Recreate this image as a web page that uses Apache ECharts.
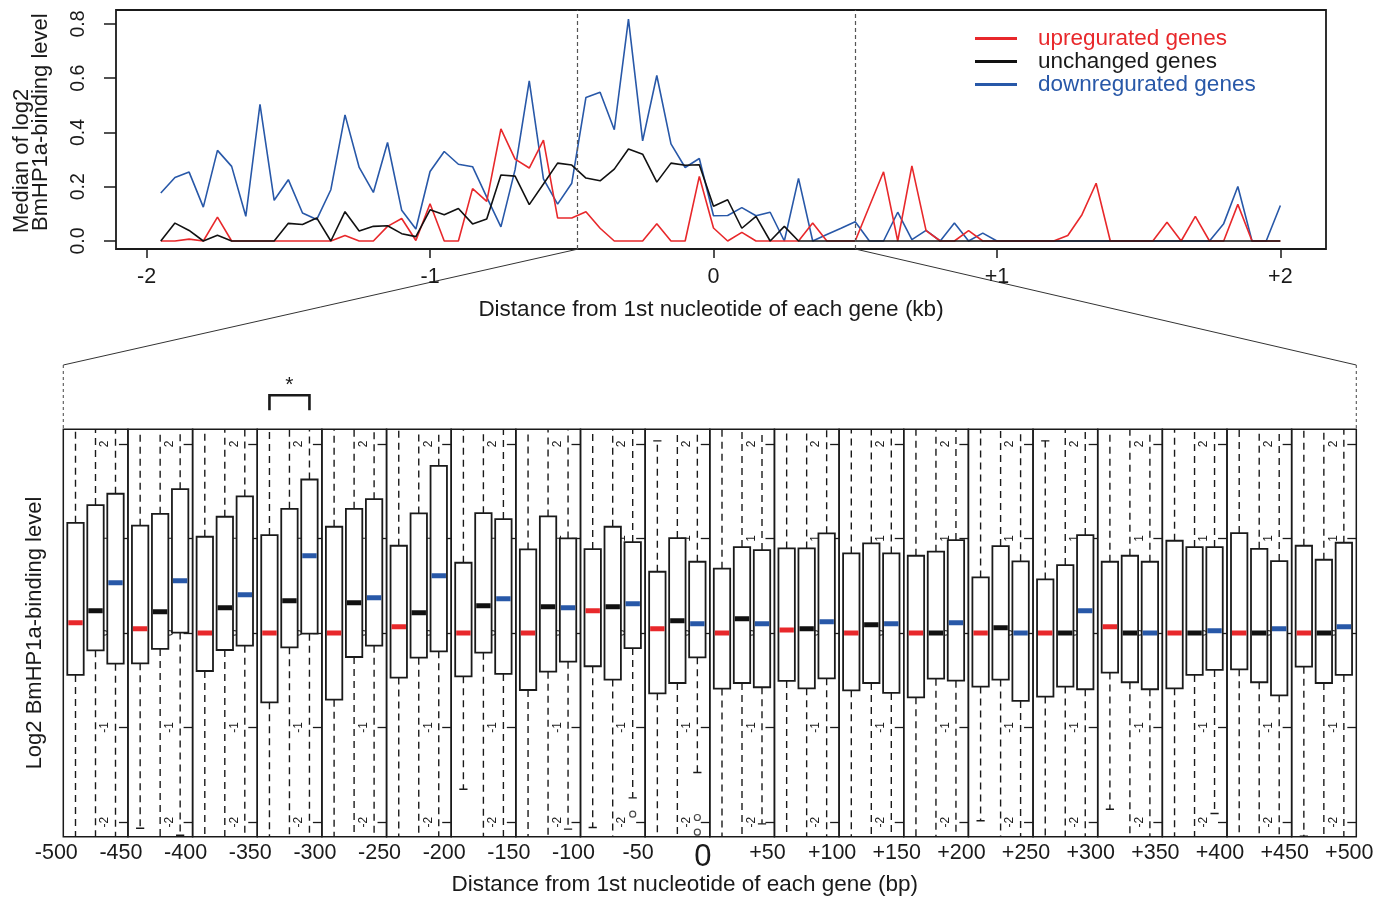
<!DOCTYPE html>
<html>
<head>
<meta charset="utf-8">
<script src="https://cdn.jsdelivr.net/npm/echarts@6/dist/echarts.min.js"></script>
<style>
html, body { margin: 0; padding: 0; background: #fff; }
#chart { width: 1390px; height: 898px; }
</style>
</head>
<body>
<div id="chart"></div>
<script>
// top panel: median of log2 BmHP1a-binding level in 50 bp bins (kb from 1st nucleotide)
var distKb = [
  -1.95, -1.9, -1.85, -1.8, -1.75, -1.7, -1.65, -1.6, -1.55, -1.5,
  -1.45, -1.4, -1.35, -1.3, -1.25, -1.2, -1.15, -1.1, -1.05, -1,
  -0.95, -0.9, -0.85, -0.8, -0.75, -0.7, -0.65, -0.6, -0.55, -0.5,
  -0.45, -0.4, -0.35, -0.3, -0.25, -0.2, -0.15, -0.1, -0.05, 0,
  0.05, 0.1, 0.15, 0.2, 0.25, 0.3, 0.35, 0.4, 0.45, 0.5,
  0.55, 0.6, 0.65, 0.7, 0.75, 0.8, 0.85, 0.9, 0.95, 1,
  1.05, 1.1, 1.15, 1.2, 1.25, 1.3, 1.35, 1.4, 1.45, 1.5,
  1.55, 1.6, 1.65, 1.7, 1.75, 1.8, 1.85, 1.9, 1.95, 2
];
var upMedian = [
  0, 0, 0.007, 0, 0.088, 0, 0, 0, 0, 0,
  0, 0, 0, 0.020, 0, 0, 0.054, 0.083, 0.002, 0.137,
  0, 0, 0.193, 0.146, 0.413, 0.302, 0.269, 0.372, 0.085, 0.085,
  0.108, 0.047, 0, 0, 0, 0.064, 0, 0, 0.238, 0.048,
  0, 0.032, 0, 0, 0, 0, 0.066, 0, 0, 0,
  0.128, 0.255, 0, 0.277, 0.038, 0, 0, 0.038, 0, 0,
  0, 0, 0, 0, 0.020, 0.097, 0.213, 0, 0, 0,
  0, 0.069, 0, 0.091, 0, 0, 0.135, 0, 0, 0
];
var unchangedMedian = [
  0, 0.066, 0.039, 0, 0.021, 0, 0, 0, 0, 0.065,
  0.061, 0.085, 0, 0.108, 0.037, 0.054, 0.056, 0.027, 0.016, 0.115,
  0.097, 0.120, 0.063, 0.081, 0.243, 0.239, 0.134, 0.210, 0.287, 0.280,
  0.232, 0.222, 0.265, 0.339, 0.320, 0.217, 0.287, 0.279, 0.281, 0.128,
  0.152, 0.047, 0.091, 0, 0.054, 0, 0, 0, 0, 0,
  0, 0, 0, 0, 0, 0, 0, 0, 0, 0,
  0, 0, 0, 0, 0, 0, 0, 0, 0, 0,
  0, 0, 0, 0, 0, 0, 0, 0, 0, 0
];
var downMedian = [
  0.177, 0.234, 0.254, 0.125, 0.334, 0.275, 0.091, 0.504, 0.150, 0.226,
  0.103, 0.079, 0.189, 0.465, 0.271, 0.179, 0.363, 0.113, 0.044, 0.256,
  0.330, 0.283, 0.274, 0.162, 0.052, 0.263, 0.590, 0.229, 0.136, 0.213,
  0.529, 0.548, 0.410, 0.818, 0.369, 0.610, 0.358, 0.271, 0.304, 0.093,
  0.094, 0.123, 0.093, 0.106, 0, 0.231, 0, 0.024, 0.047, 0.071,
  0, 0, 0.106, 0.005, 0.039, 0, 0.066, 0, 0.029, 0,
  0, 0, 0, 0, 0, 0, 0, 0, 0, 0,
  0, 0, 0, 0, 0, 0.064, 0.201, 0, 0, 0.131
];

// bottom panel: log2 binding level per 50 bp window, -500 .. +500 bp
// box = [lower whisker, Q1, median, Q3, upper whisker]; whiskers past +-2.15 run off the plot
var windowLabels = ['-500', '-450', '-400', '-350', '-300', '-250', '-200', '-150', '-100', '-50', '0',
  '+50', '+100', '+150', '+200', '+250', '+300', '+350', '+400', '+450', '+500'];
var upBox = [
  [-2.6, -0.444, 0.109, 1.166, 2.6],
  [-2.065, -0.321, 0.046, 1.135, 2.6],
  [-2.6, -0.402, 0, 1.018, 2.6],
  [-2.6, -0.733, 0, 1.036, 2.6],
  [-2.6, -0.705, 0, 1.124, 2.6],
  [-2.6, -0.472, 0.067, 0.923, 2.6],
  [-1.653, -0.458, 0, 0.743, 2.6],
  [-2.6, -0.603, 0, 0.884, 2.6],
  [-2.058, -0.352, 0.236, 0.888, 2.6],
  [-2.6, -0.638, 0.046, 0.648, 2.033],
  [-2.6, -0.588, 0, 0.680, 2.6],
  [-2.6, -0.507, 0.032, 0.895, 2.6],
  [-2.6, -0.606, 0, 0.842, 2.6],
  [-2.6, -0.680, 0, 0.817, 2.6],
  [-1.987, -0.567, 0, 0.588, 2.6],
  [-2.6, -0.673, 0, 0.567, 2.033],
  [-1.864, -0.419, 0.067, 0.754, 2.6],
  [-2.6, -0.585, 0, 0.976, 2.6],
  [-2.6, -0.384, 0, 1.057, 2.6],
  [-2.15, -0.356, 0, 0.923, 2.6]
];
var unchangedBox = [
  [-2.6, -0.183, 0.236, 1.353, 2.6],
  [-2.6, -0.169, 0.225, 1.261, 2.6],
  [-2.6, -0.180, 0.268, 1.230, 2.6],
  [-2.6, -0.152, 0.342, 1.314, 2.6],
  [-2.6, -0.254, 0.321, 1.314, 2.6],
  [-2.6, -0.261, 0.215, 1.265, 2.6],
  [-2.6, -0.208, 0.289, 1.268, 2.6],
  [-2.6, -0.409, 0.278, 1.233, 2.6],
  [-2.6, -0.493, 0.278, 1.124, 2.6],
  [-2.6, -0.529, 0.130, 1.004, 2.6],
  [-2.6, -0.529, 0.152, 0.909, 2.6],
  [-2.6, -0.585, 0.046, 0.895, 2.6],
  [-2.6, -0.529, 0.088, 0.948, 2.6],
  [-2.6, -0.483, 0, 0.860, 2.6],
  [-2.6, -0.493, 0.056, 0.920, 2.6],
  [-2.6, -0.567, 0, 0.719, 2.6],
  [-2.6, -0.521, 0, 0.817, 2.6],
  [-2.6, -0.444, 0, 0.909, 2.6],
  [-2.6, -0.521, 0, 0.891, 2.6],
  [-2.6, -0.529, 0, 0.775, 2.6]
];
var downBox = [
  [-2.6, -0.324, 0.532, 1.473, 2.6],
  [-2.14, 0.004, 0.553, 1.522, 2.6],
  [-2.6, -0.134, 0.405, 1.445, 2.6],
  [-2.6, -0.007, 0.817, 1.624, 2.6],
  [-2.6, -0.134, 0.373, 1.416, 2.6],
  [-2.6, -0.194, 0.606, 1.769, 2.6],
  [-2.6, -0.433, 0.363, 1.205, 2.6],
  [-2.075, -0.303, 0.268, 1.001, 2.6],
  [-1.744, -0.159, 0.310, 0.962, 2.6],
  [-1.476, -0.257, 0.099, 0.754, 2.6],
  [-2.019, -0.574, 0.099, 0.877, 2.6],
  [-2.6, -0.479, 0.120, 1.054, 2.6],
  [-2.6, -0.634, 0.099, 0.842, 2.6],
  [-2.6, -0.504, 0.109, 0.983, 2.6],
  [-2.6, -0.719, 0, 0.758, 2.6],
  [-2.6, -0.595, 0.236, 1.036, 2.6],
  [-2.6, -0.595, 0, 0.754, 2.6],
  [-1.910, -0.391, 0.025, 0.909, 2.6],
  [-2.6, -0.659, 0.046, 0.761, 2.6],
  [-2.6, -0.444, 0.067, 0.955, 2.6]
];
// [window index, value]
var downOutliers = [[8, -1.917], [9, -1.952], [9, -2.107]];

var RED = '#e8282b', BLACK = '#111111', BLUE = '#2858a8';
var groupColors = [RED, BLACK, BLUE];
var FONT = '"Liberation Sans", Arial, Helvetica, sans-serif';
var INK = '#1a1a1a';

var chart = echarts.init(document.getElementById('chart'));

var PANEL_LEFT = 63.3, PANEL_W = 64.65, PANEL_TOP = 429.3, PANEL_H = 407.4;
var SLOT_MIN = -0.61, SLOT_MAX = 2.6225, BOX_Y = 2.155;

function renderBox(params, api) {
  var slot = api.value(0);
  var x = api.coord([slot, 0])[0];
  var lo = api.coord([slot, api.value(1)])[1];
  var q1 = api.coord([slot, api.value(2)])[1];
  var md = api.coord([slot, api.value(3)])[1];
  var q3 = api.coord([slot, api.value(4)])[1];
  var hi = api.coord([slot, api.value(5)])[1];
  var hw = api.size([0.82, 0])[0] / 2;
  var dash = { stroke: INK, lineWidth: 1.4, lineDash: [7, 5] };
  var solid = { stroke: INK, lineWidth: 1.4 };
  return {
    type: 'group',
    children: [
      { type: 'line', shape: { x1: x, y1: q3, x2: x, y2: hi }, style: dash },
      { type: 'line', shape: { x1: x, y1: q1, x2: x, y2: lo }, style: dash },
      { type: 'line', shape: { x1: x - hw / 2, y1: hi, x2: x + hw / 2, y2: hi }, style: solid },
      { type: 'line', shape: { x1: x - hw / 2, y1: lo, x2: x + hw / 2, y2: lo }, style: solid },
      { type: 'rect', shape: { x: x - hw, y: q3, width: 2 * hw, height: q1 - q3 },
        style: { fill: '#fff', stroke: INK, lineWidth: 1.8 } },
      { type: 'rect', shape: { x: x - hw + 1, y: md - 2.5, width: 2 * hw - 2, height: 5 },
        style: { fill: groupColors[slot] } }
    ]
  };
}

var grids = [], xAxes = [], yAxes = [], series = [];

// top chart
grids.push({ left: 116, top: 10, width: 1210, height: 239, show: true, borderColor: INK, borderWidth: 1.8,
  backgroundColor: 'transparent', outerBoundsMode: 'none' });
xAxes.push({
  gridIndex: 0, type: 'value', min: -2.108, max: 2.161,
  axisLine: { show: false, onZero: false },
  axisTick: { show: true, length: 9, customValues: [-2, -1, 0, 1, 2], lineStyle: { color: INK, width: 1.5 } },
  axisLabel: { customValues: [-2, -1, 0, 1, 2], formatter: function (v) { return v > 0 ? '+' + v : String(v); },
    fontSize: 21.5, color: INK, fontFamily: FONT, margin: 17 },
  splitLine: { show: false },
  name: 'Distance from 1st nucleotide of each gene (kb)', nameLocation: 'middle', nameGap: 49,
  nameTextStyle: { fontSize: 22.5, color: INK, fontFamily: FONT, padding: [0, 20, 0, 0] }
});
yAxes.push({
  gridIndex: 0, type: 'value', min: -0.0295, max: 0.8515,
  axisLine: { show: false, onZero: false },
  axisTick: { show: true, length: 12, customValues: [0, 0.2, 0.4, 0.6, 0.8], lineStyle: { color: INK, width: 1.5 } },
  axisLabel: { customValues: [0, 0.2, 0.4, 0.6, 0.8], rotate: 90, formatter: function (v) { return v.toFixed(1); },
    fontSize: 19.5, lineHeight: 20, color: INK, fontFamily: FONT, margin: 27 },
  splitLine: { show: false }
});

var lineDefs = [
  { name: 'downregurated genes', values: downMedian, color: BLUE },
  { name: 'upregurated genes', values: upMedian, color: RED },
  { name: 'unchanged genes', values: unchangedMedian, color: BLACK }
];
lineDefs.forEach(function (d, k) {
  var s = {
    type: 'line', name: d.name, xAxisIndex: 0, yAxisIndex: 0,
    data: distKb.map(function (x, i) { return [x, d.values[i]]; }),
    symbol: 'none', lineStyle: { color: d.color, width: 1.6 }, itemStyle: { color: d.color },
    animation: false, silent: true
  };
  if (k === 0) {
    s.markLine = {
      symbol: 'none', silent: true, label: { show: false },
      lineStyle: { type: [4, 3], color: '#555', width: 1.2 },
      data: [{ xAxis: -0.477 }, { xAxis: 0.5 }]
    };
  }
  series.push(s);
});

// bottom boxplot panels, one grid per 50 bp window
for (var i = 0; i < upBox.length; i++) {
  var g = i + 1;
  grids.push({ left: PANEL_LEFT + i * PANEL_W, top: PANEL_TOP, width: PANEL_W, height: PANEL_H,
    show: true, borderColor: INK, borderWidth: 1.5, backgroundColor: 'transparent', outerBoundsMode: 'none' });
  xAxes.push({ gridIndex: g, type: 'value', min: SLOT_MIN, max: SLOT_MAX, show: false });
  yAxes.push({
    gridIndex: g, type: 'value', position: 'right', min: -BOX_Y, max: BOX_Y,
    axisLine: { show: false, onZero: false },
    axisTick: { show: true, inside: true, length: 9, customValues: [-2, -1, 0, 1, 2], lineStyle: { color: INK, width: 1.3 } },
    axisLabel: { inside: true, rotate: 90, customValues: [-2, -1, 0, 1, 2], fontSize: 12, lineHeight: 12,
      color: INK, fontFamily: FONT, margin: 17 },
    splitLine: { show: false }
  });
  series.push({
    type: 'custom', xAxisIndex: g, yAxisIndex: g, renderItem: renderBox, clip: true,
    encode: { x: 0, y: [1, 2, 3, 4, 5] }, animation: false, silent: true, z: 3,
    data: [[0].concat(upBox[i]), [1].concat(unchangedBox[i]), [2].concat(downBox[i])]
  });
  var outs = downOutliers.filter(function (o) { return o[0] === i; });
  if (outs.length) {
    series.push({
      type: 'scatter', xAxisIndex: g, yAxisIndex: g, symbol: 'circle', symbolSize: 6, z: 4,
      itemStyle: { color: '#fff', borderColor: INK, borderWidth: 1.2 }, animation: false, silent: true,
      data: outs.map(function (o) { return [2, o[1]]; })
    });
  }
}

// overlay grid carrying the window labels and bottom titles
var ov = upBox.length + 1;
grids.push({ left: PANEL_LEFT, top: PANEL_TOP, width: PANEL_W * upBox.length, height: PANEL_H, show: false,
  outerBoundsMode: 'none' });
xAxes.push({
  gridIndex: ov, type: 'value', min: 0, max: upBox.length,
  axisLine: { show: false, onZero: false }, axisTick: { show: false }, splitLine: { show: false },
  axisLabel: {
    customValues: windowLabels.map(function (_, k) { return k; }),
    formatter: function (v) { var t = windowLabels[Math.round(v)]; return t === '0' ? '{big|0}' : t; },
    fontSize: 21.5, color: INK, fontFamily: FONT, margin: 5, padding: [0, 14, 0, 0],
    rich: { big: { fontSize: 31, color: INK, fontFamily: FONT } }
  },
  name: 'Distance from 1st nucleotide of each gene (bp)', nameLocation: 'middle', nameGap: 31,
  nameTextStyle: { fontSize: 22.5, color: INK, fontFamily: FONT, padding: [0, 50, 0, 0] }
});
yAxes.push({
  gridIndex: ov, type: 'value', min: -1, max: 1,
  axisLine: { show: false, onZero: false }, axisTick: { show: false }, axisLabel: { show: false }, splitLine: { show: false },
  name: 'Log2 BmHP1a-binding level', nameLocation: 'middle', nameRotate: 90, nameGap: 17,
  nameTextStyle: { fontSize: 22, color: INK, fontFamily: FONT }
});

var option = {
  backgroundColor: '#fff',
  animation: false,
  grid: grids, xAxis: xAxes, yAxis: yAxes, series: series,
  legend: {
    orient: 'vertical', left: 970, top: 22, itemWidth: 42, itemHeight: 3, itemGap: 0, icon: 'rect',
    selectedMode: false,
    textStyle: { fontSize: 22.5, lineHeight: 22, fontFamily: FONT, padding: [0, 0, 0, 16] },
    data: [
      { name: 'upregurated genes', textStyle: { color: RED } },
      { name: 'unchanged genes', textStyle: { color: INK } },
      { name: 'downregurated genes', textStyle: { color: BLUE } }
    ]
  }
};
chart.setOption(option);

// zoom connectors, significance bracket and the two-line y title of the top chart
var yBottomTop = -0.0295;
var leftFoot = chart.convertToPixel({ gridIndex: 0 }, [-0.477, yBottomTop]);
var rightFoot = chart.convertToPixel({ gridIndex: 0 }, [0.5, yBottomTop]);
var boxLeft = chart.convertToPixel({ gridIndex: 1 }, [SLOT_MIN, BOX_Y]);
var boxRight = chart.convertToPixel({ gridIndex: upBox.length }, [SLOT_MAX, BOX_Y]);
var kneeY = 365;
var b0 = chart.convertToPixel({ gridIndex: 4 }, [0, BOX_Y]);
var b2 = chart.convertToPixel({ gridIndex: 4 }, [2, BOX_Y]);
var dashed = { stroke: '#555', lineWidth: 1.1, lineDash: [3, 3] };
var thin = { stroke: '#333', lineWidth: 1 };

chart.setOption({
  graphic: [
    { type: 'line', silent: true, shape: { x1: leftFoot[0], y1: leftFoot[1], x2: boxLeft[0], y2: kneeY }, style: thin },
    { type: 'line', silent: true, shape: { x1: rightFoot[0], y1: rightFoot[1], x2: boxRight[0], y2: kneeY }, style: thin },
    { type: 'line', silent: true, shape: { x1: boxLeft[0], y1: kneeY, x2: boxLeft[0], y2: boxLeft[1] }, style: dashed },
    { type: 'line', silent: true, shape: { x1: boxRight[0], y1: kneeY, x2: boxRight[0], y2: boxRight[1] }, style: dashed },
    { type: 'polyline', silent: true,
      shape: { points: [[b0[0], b0[1] - 19], [b0[0], b0[1] - 34], [b2[0], b2[1] - 34], [b2[0], b2[1] - 19]] },
      style: { fill: null, stroke: INK, lineWidth: 2.6 } },
    { type: 'text', silent: true, x: (b0[0] + b2[0]) / 2, y: b0[1] - 44,
      style: { text: '*', font: '21px ' + FONT, fill: INK, align: 'center', verticalAlign: 'middle' } },
    { type: 'text', silent: true, x: 21.5, y: 233, rotation: Math.PI / 2,
      style: { text: 'Median of log2', font: '22px ' + FONT, fill: INK, align: 'left', verticalAlign: 'middle' } },
    { type: 'text', silent: true, x: 41, y: 231, rotation: Math.PI / 2,
      style: { text: 'BmHP1a-binding level', font: '22px ' + FONT, fill: INK, align: 'left', verticalAlign: 'middle' } }
  ]
});
</script>
</body>
</html>
